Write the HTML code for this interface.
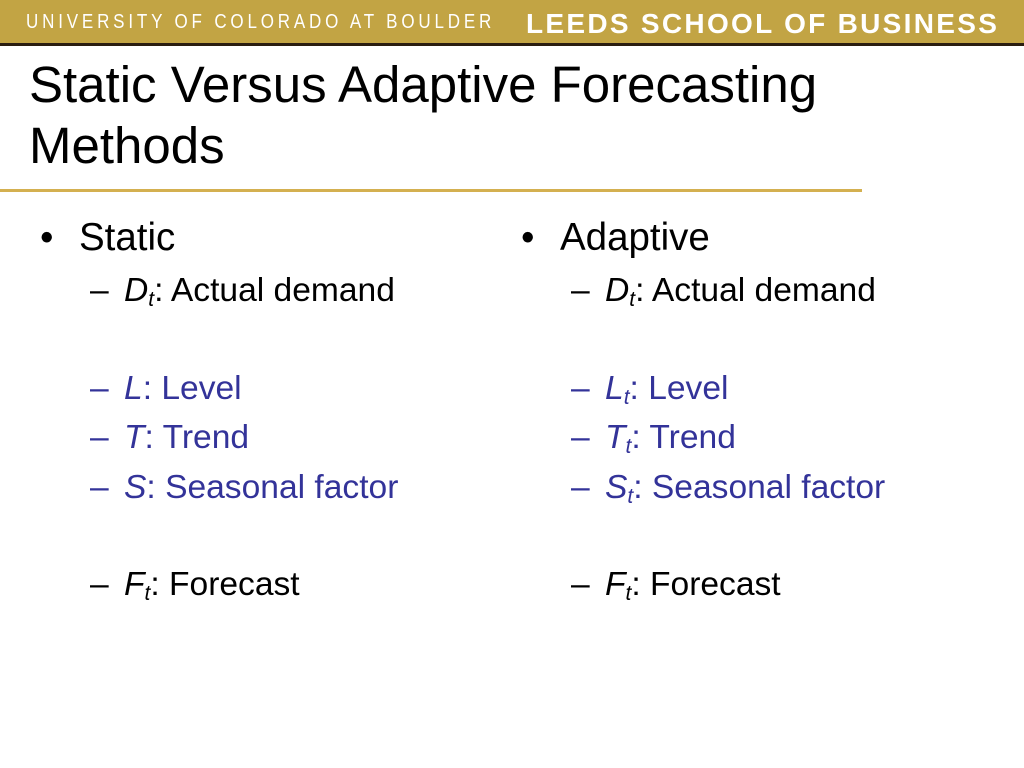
<!DOCTYPE html>
<html><head><style>
body{margin:0;width:1024px;height:768px;background:#fff;position:relative;overflow:hidden;font-family:"Liberation Sans",sans-serif;}
.hdr{position:absolute;left:0;top:0;width:1024px;height:43px;background:#C2A444;}
.hl{position:absolute;left:0;top:43px;width:1024px;height:3px;background:#2a1d10;}
.u{position:absolute;left:26px;top:11px;color:#fff;font-family:"Liberation Sans Narrow","Liberation Sans",sans-serif;font-size:20px;letter-spacing:4.5px;transform:scaleX(.85);transform-origin:left;white-space:nowrap;}
.l{position:absolute;left:526px;top:8px;color:#fff;font-weight:bold;font-size:28px;letter-spacing:2.3px;white-space:nowrap;}
.t{position:absolute;left:29px;top:54px;font-size:51px;line-height:61px;color:#000;}
.rule{position:absolute;left:0;top:189px;width:862px;height:3px;background:#D4B050;}
.i{position:absolute;white-space:nowrap;color:#000;}
.b{font-size:38.5px;}
.s{font-size:33.6px;}
.blue{color:#333399;}
.bl{display:inline-block;width:39px;}
.d{display:inline-block;width:34px;}
sub{font-size:21px;vertical-align:-5px;line-height:0;}
</style></head><body>
<div class="hdr"></div><div class="hl"></div>
<div class="u">UNIVERSITY OF COLORADO AT BOULDER</div>
<div class="l">LEEDS SCHOOL OF BUSINESS</div>
<div class="t">Static Versus Adaptive Forecasting<br>Methods</div>
<div class="rule"></div>

<div class="i b" style="left:40px;top:216px"><span class="bl">•</span>Static</div>
<div class="i s" style="left:90px;top:272px"><span class="d">–</span><i>D<sub>t</sub></i>: Actual demand</div>
<div class="i s blue" style="left:90px;top:370px"><span class="d">–</span><i>L</i>: Level</div>
<div class="i s blue" style="left:90px;top:419px"><span class="d">–</span><i>T</i>: Trend</div>
<div class="i s blue" style="left:90px;top:469px"><span class="d">–</span><i>S</i>: Seasonal factor</div>
<div class="i s" style="left:90px;top:566px"><span class="d">–</span><i>F<sub>t</sub></i>: Forecast</div>

<div class="i b" style="left:521px;top:216px"><span class="bl">•</span>Adaptive</div>
<div class="i s" style="left:571px;top:272px"><span class="d">–</span><i>D<sub>t</sub></i>: Actual demand</div>
<div class="i s blue" style="left:571px;top:370px"><span class="d">–</span><i>L<sub>t</sub></i>: Level</div>
<div class="i s blue" style="left:571px;top:419px"><span class="d">–</span><i>T<sub>t</sub></i>: Trend</div>
<div class="i s blue" style="left:571px;top:469px"><span class="d">–</span><i>S<sub>t</sub></i>: Seasonal factor</div>
<div class="i s" style="left:571px;top:566px"><span class="d">–</span><i>F<sub>t</sub></i>: Forecast</div>
</body></html>
